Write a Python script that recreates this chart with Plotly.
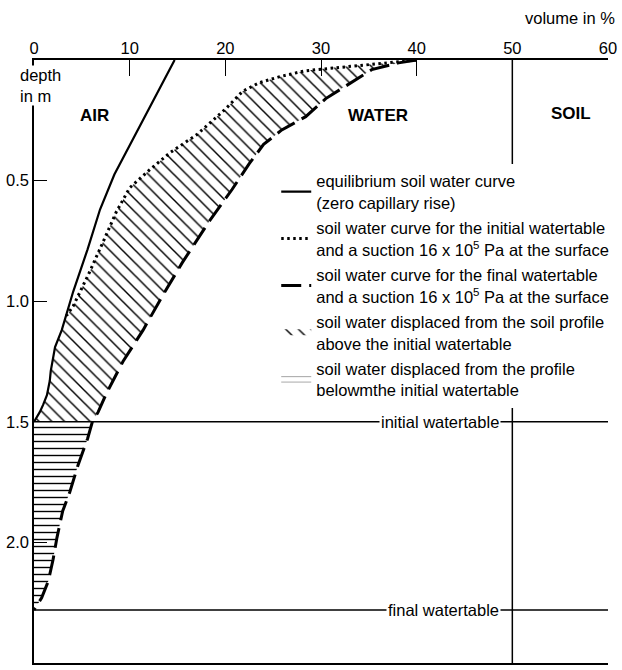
import plotly.graph_objects as go

# ---- data (volume % vs depth m) ----
equil_x = [14.7, 8.4, 6.9, 5.6, 4.1, 2.9, 2.2, 2.0, 1.75, 1.65, 1.35, 0.95, 0.6, 0.0]
equil_d = [0.0, 0.475, 0.62, 0.785, 0.96, 1.12, 1.19, 1.23, 1.29, 1.33, 1.39, 1.43, 1.46, 1.5]

init_x = [40.0, 37.4, 34.7, 31.6, 28.3, 25.6, 23.5, 21.8, 20.1, 18.7, 17.0, 15.5, 14.2, 12.1, 10.0, 9.5, 8.6, 7.2, 5.8, 4.1, 3.4]
init_d = [0.0, 0.01, 0.02, 0.03, 0.045, 0.07, 0.095, 0.13, 0.20, 0.25, 0.31, 0.35, 0.385, 0.455, 0.53, 0.566, 0.63, 0.756, 0.88, 1.02, 1.06]

final_x = [40.0, 38.1, 35.3, 32.9, 30.5, 28.4, 25.9, 24.0, 22.5, 20.7, 18.3, 15.5, 13.4, 11.4, 9.3, 7.6, 6.7, 6.1, 5.6, 4.6, 3.75, 3.0, 2.4, 2.0, 1.5, 0.8, 0.0]
final_d = [0.0, 0.012, 0.04, 0.10, 0.16, 0.235, 0.29, 0.35, 0.43, 0.537, 0.67, 0.84, 0.98, 1.12, 1.25, 1.38, 1.46, 1.5, 1.57, 1.68, 1.79, 1.87, 1.98, 2.07, 2.16, 2.23, 2.28]

initial_watertable = 1.5
final_watertable = 2.28
soil_boundary = 50
x_ticks = [0, 10, 20, 30, 40, 50, 60]
y_ticks = [0.5, 1.0, 1.5, 2.0, 2.5]

FONT = "Liberation Sans, Arial, Helvetica, sans-serif"
FS = 16.5

# ---- build hatched regions from the curves ----
merge_d = init_d[-1]
up_x = list(init_x) + [x for x, d in zip(equil_x, equil_d) if d > merge_d]
up_d = list(init_d) + [d for d in equil_d if d > merge_d]
fin_upper = [(x, d) for x, d in zip(final_x, final_d) if d <= initial_watertable]
up_x += [x for x, d in reversed(fin_upper)]
up_d += [d for x, d in reversed(fin_upper)]

fin_lower = [(x, d) for x, d in zip(final_x, final_d) if d >= initial_watertable]
lo_x = [0.0] + [x for x, d in fin_lower] + [0.0]
lo_d = [initial_watertable] + [d for x, d in fin_lower] + [initial_watertable]

fig = go.Figure()

fig.add_trace(go.Scatter(
    x=up_x, y=up_d, mode="none", fill="toself", fillcolor="white",
    fillpattern=dict(shape="\\", fgcolor="black", bgcolor="white", fgopacity=1,
                     size=9, solidity=0.16),
    name="soil water displaced from the soil profile<br>above the initial watertable",
    legendrank=4, legendgroup="g4", hoverinfo="skip"))
fig.add_trace(go.Scatter(
    x=lo_x, y=lo_d, mode="none", fill="toself", fillcolor="white",
    fillpattern=dict(shape="-", fgcolor="black", bgcolor="white", fgopacity=1,
                     size=7, solidity=0.2),
    name="soil water displaced from the profile<br>belowmthe initial watertable",
    legendrank=5, legendgroup="g5", hoverinfo="skip"))
fig.add_trace(go.Scatter(
    x=equil_x, y=equil_d, mode="lines", line=dict(color="black", width=2.2),
    name="equilibrium soil water curve<br>(zero capillary rise)", legendrank=1, legendgroup="g1"))
fig.add_trace(go.Scatter(
    x=init_x, y=init_d, mode="lines", line=dict(color="black", width=3, dash="2.5px,3.5px"),
    name="soil water curve for the initial watertable<br>and a suction 16 x 10<sup>5</sup> Pa at the surface",
    legendrank=2, legendgroup="g2"))
fig.add_trace(go.Scatter(
    x=final_x, y=final_d, mode="lines", line=dict(color="black", width=3, dash="20px,8px"),
    name="soil water curve for the final watertable<br>and a suction 16 x 10<sup>5</sup> Pa at the surface",
    legendrank=3, legendgroup="g3"))

shapes = [
    dict(type="line", xref="x", yref="y", x0=soil_boundary, x1=soil_boundary, y0=0, y1=2.5,
         line=dict(color="black", width=1.5), layer="below"),
    dict(type="line", xref="x", yref="y", x0=0, x1=60, y0=initial_watertable, y1=initial_watertable,
         line=dict(color="black", width=1.5), layer="above"),
    dict(type="line", xref="x", yref="y", x0=0, x1=60, y0=final_watertable, y1=final_watertable,
         line=dict(color="black", width=1.5), layer="above"),
]

tf = dict(family=FONT, size=FS, color="black")
annotations = [
    dict(text="initial watertable", x=48.8, y=initial_watertable, xref="x", yref="y",
         xanchor="right", yanchor="middle", showarrow=False, font=tf, bgcolor="white", borderpad=1),
    dict(text="final watertable", x=48.8, y=final_watertable, xref="x", yref="y",
         xanchor="right", yanchor="middle", showarrow=False, font=tf, bgcolor="white", borderpad=1),
    dict(text="<b>AIR</b>", x=6.35, y=0.23, xref="x", yref="y", showarrow=False,
         font=dict(family=FONT, size=17, color="black")),
    dict(text="<b>WATER</b>", x=36.0, y=0.23, xref="x", yref="y", showarrow=False,
         font=dict(family=FONT, size=17, color="black")),
    dict(text="<b>SOIL</b>", x=56.1, y=0.22, xref="x", yref="y", showarrow=False,
         font=dict(family=FONT, size=17, color="black")),
    dict(text="depth<br>in m", x=0, y=1, xref="paper", yref="paper", xanchor="left", yanchor="top",
         align="left", xshift=-15, yshift=-5, showarrow=False,
         font=dict(family=FONT, size=16.5, color="black"), bgcolor="white", borderpad=0),
    dict(text="volume in %", x=1, y=1, xref="paper", yref="paper", xanchor="right", yanchor="middle",
         xshift=9, yshift=42, showarrow=False, font=tf),
]

fig.update_layout(
    width=622, height=670,
    margin=dict(l=34, r=11, t=60, b=5),
    paper_bgcolor="white", plot_bgcolor="white",
    font=tf,
    shapes=shapes, annotations=annotations,
    showlegend=True,
    legend=dict(x=0.422, y=0.828, xanchor="left", yanchor="top", bgcolor="white",
                font=tf, tracegroupgap=1, itemwidth=30, borderwidth=0),
    xaxis=dict(range=[0, 60], side="top", tickvals=x_ticks, ticks="inside", ticklen=16,
               tickwidth=1.3, tickcolor="black", showline=True, linecolor="black", linewidth=1.8,
               mirror=True, showgrid=False, zeroline=False, tickfont=tf, ticklabelstandoff=-2),
    yaxis=dict(range=[2.5, 0], tickvals=y_ticks, tickformat=".1f", ticks="inside", ticklen=13,
               tickwidth=1.3, tickcolor="black", showline=True, linecolor="black", linewidth=1.5,
               showgrid=False, zeroline=False, tickfont=tf),
)

fig.write_html("out.html", config={"displayModeBar": False},
               post_script="document.body.style.margin='0';document.body.style.padding='0';")
